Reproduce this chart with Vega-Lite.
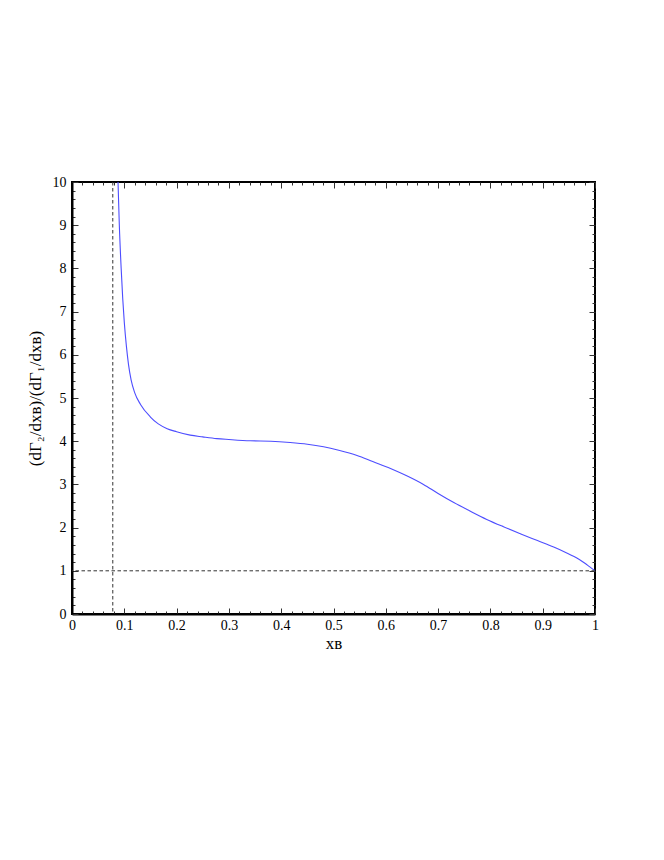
{
  "$schema": "https://vega.github.io/schema/vega-lite/v6.json",
  "width": 523,
  "height": 432,
  "autosize": {"type": "none"},
  "padding": {"left": 72, "top": 182, "right": 69, "bottom": 246},
  "background": "white",
  "config": {
    "view": {"stroke": "black", "strokeWidth": 2},
    "axis": {
      "labelFont": "Liberation Serif",
      "labelFontSize": 14,
      "labelColor": "black",
      "titleFont": "Liberation Serif",
      "titleFontSize": 17,
      "titleFontWeight": "normal",
      "titleColor": "black",
      "domainColor": "black",
      "domainWidth": 2,
      "tickColor": "#333",
      "tickWidth": 1,
      "grid": false,
      "labelOverlap": false,
      "labelFlush": false
    }
  },
  "layer": [
    {
      "data": {"values": [
        {"x": 0.0873, "y": 10.3}, {"x": 0.088, "y": 10}, {"x": 0.0905, "y": 9}, {"x": 0.094, "y": 8},
        {"x": 0.097, "y": 7.3}, {"x": 0.1, "y": 6.75}, {"x": 0.104, "y": 6.2}, {"x": 0.108, "y": 5.78},
        {"x": 0.113, "y": 5.42}, {"x": 0.12, "y": 5.12}, {"x": 0.131, "y": 4.85}, {"x": 0.15, "y": 4.56},
        {"x": 0.165, "y": 4.4}, {"x": 0.182, "y": 4.29}, {"x": 0.2, "y": 4.22}, {"x": 0.226, "y": 4.14},
        {"x": 0.25, "y": 4.1}, {"x": 0.277, "y": 4.06}, {"x": 0.3, "y": 4.04}, {"x": 0.341, "y": 4.01},
        {"x": 0.38, "y": 4.0}, {"x": 0.417, "y": 3.97}, {"x": 0.45, "y": 3.93}, {"x": 0.481, "y": 3.87},
        {"x": 0.51, "y": 3.79}, {"x": 0.545, "y": 3.67}, {"x": 0.575, "y": 3.53}, {"x": 0.609, "y": 3.37},
        {"x": 0.64, "y": 3.2}, {"x": 0.672, "y": 3.0}, {"x": 0.7, "y": 2.79}, {"x": 0.73, "y": 2.58},
        {"x": 0.76, "y": 2.39}, {"x": 0.793, "y": 2.19}, {"x": 0.825, "y": 2.02}, {"x": 0.857, "y": 1.86},
        {"x": 0.89, "y": 1.7}, {"x": 0.921, "y": 1.55}, {"x": 0.945, "y": 1.42}, {"x": 0.96, "y": 1.33},
        {"x": 0.97, "y": 1.26}, {"x": 0.98, "y": 1.18}, {"x": 0.99, "y": 1.09}, {"x": 1.0, "y": 1.0}
      ]},
      "mark": {"type": "line", "color": "#4d4dff", "strokeWidth": 1.1, "clip": true, "interpolate": "monotone"},
      "encoding": {
        "x": {
          "field": "x", "type": "quantitative",
          "scale": {"domain": [0, 1], "nice": false, "zero": false},
          "axis": {
            "orient": "bottom",
            "title": "xʙ",
            "titlePadding": 0,
            "values": [0,0.02,0.04,0.06,0.08,0.1,0.12,0.14,0.16,0.18,0.2,0.22,0.24,0.26,0.28,0.3,0.32,0.34,0.36,0.38,0.4,0.42,0.44,0.46,0.48,0.5,0.52,0.54,0.56,0.58,0.6,0.62,0.64,0.66,0.68,0.7,0.72,0.74,0.76,0.78,0.8,0.82,0.84,0.86,0.88,0.9,0.92,0.94,0.96,0.98,1],
            "labelExpr": "abs(datum.value*10 - round(datum.value*10)) < 0.001 ? format(round(datum.value*10)/10, '~g') : ''",
            "tickSize": {"condition": {"test": "abs(datum.value*10 - round(datum.value*10)) < 0.001", "value": -6}, "value": -3},
            "labelPadding": 10
          }
        },
        "y": {
          "field": "y", "type": "quantitative",
          "scale": {"domain": [0, 10], "nice": false, "zero": false},
          "axis": {
            "orient": "left",
            "title": "(dΓ₂/dxʙ)/(dΓ₁/dxʙ)",
            "titlePadding": 8,
            "values": [0,0.2,0.4,0.6,0.8,1,1.2,1.4,1.6,1.8,2,2.2,2.4,2.6,2.8,3,3.2,3.4,3.6,3.8,4,4.2,4.4,4.6,4.8,5,5.2,5.4,5.6,5.8,6,6.2,6.4,6.6,6.8,7,7.2,7.4,7.6,7.8,8,8.2,8.4,8.6,8.8,9,9.2,9.4,9.6,9.8,10],
            "labelExpr": "abs(datum.value - round(datum.value)) < 0.001 ? format(round(datum.value), 'd') : ''",
            "tickSize": {"condition": {"test": "abs(datum.value - round(datum.value)) < 0.001", "value": -6}, "value": -3},
            "labelPadding": 12
          }
        }
      }
    },
    {
      "data": {"values": [{"xv": 0.078}]},
      "mark": {"type": "rule", "color": "#333", "strokeWidth": 1, "strokeDash": [3.5, 2.5]},
      "encoding": {
        "x": {
          "field": "xv", "type": "quantitative",
          "axis": {
            "orient": "top",
            "title": null,
            "labels": false,
            "domain": false,
            "values": [0,0.02,0.04,0.06,0.08,0.1,0.12,0.14,0.16,0.18,0.2,0.22,0.24,0.26,0.28,0.3,0.32,0.34,0.36,0.38,0.4,0.42,0.44,0.46,0.48,0.5,0.52,0.54,0.56,0.58,0.6,0.62,0.64,0.66,0.68,0.7,0.72,0.74,0.76,0.78,0.8,0.82,0.84,0.86,0.88,0.9,0.92,0.94,0.96,0.98,1],
            "tickSize": {"condition": {"test": "abs(datum.value*10 - round(datum.value*10)) < 0.001", "value": -6}, "value": -3}
          }
        }
      }
    },
    {
      "data": {"values": [{"yv": 1}]},
      "mark": {"type": "rule", "color": "#333", "strokeWidth": 1, "strokeDash": [3.5, 2.5]},
      "encoding": {
        "y": {
          "field": "yv", "type": "quantitative",
          "axis": {
            "orient": "right",
            "title": null,
            "labels": false,
            "domain": false,
            "values": [0,0.2,0.4,0.6,0.8,1,1.2,1.4,1.6,1.8,2,2.2,2.4,2.6,2.8,3,3.2,3.4,3.6,3.8,4,4.2,4.4,4.6,4.8,5,5.2,5.4,5.6,5.8,6,6.2,6.4,6.6,6.8,7,7.2,7.4,7.6,7.8,8,8.2,8.4,8.6,8.8,9,9.2,9.4,9.6,9.8,10],
            "tickSize": {"condition": {"test": "abs(datum.value - round(datum.value)) < 0.001", "value": -6}, "value": -3}
          }
        }
      }
    }
  ]
}
